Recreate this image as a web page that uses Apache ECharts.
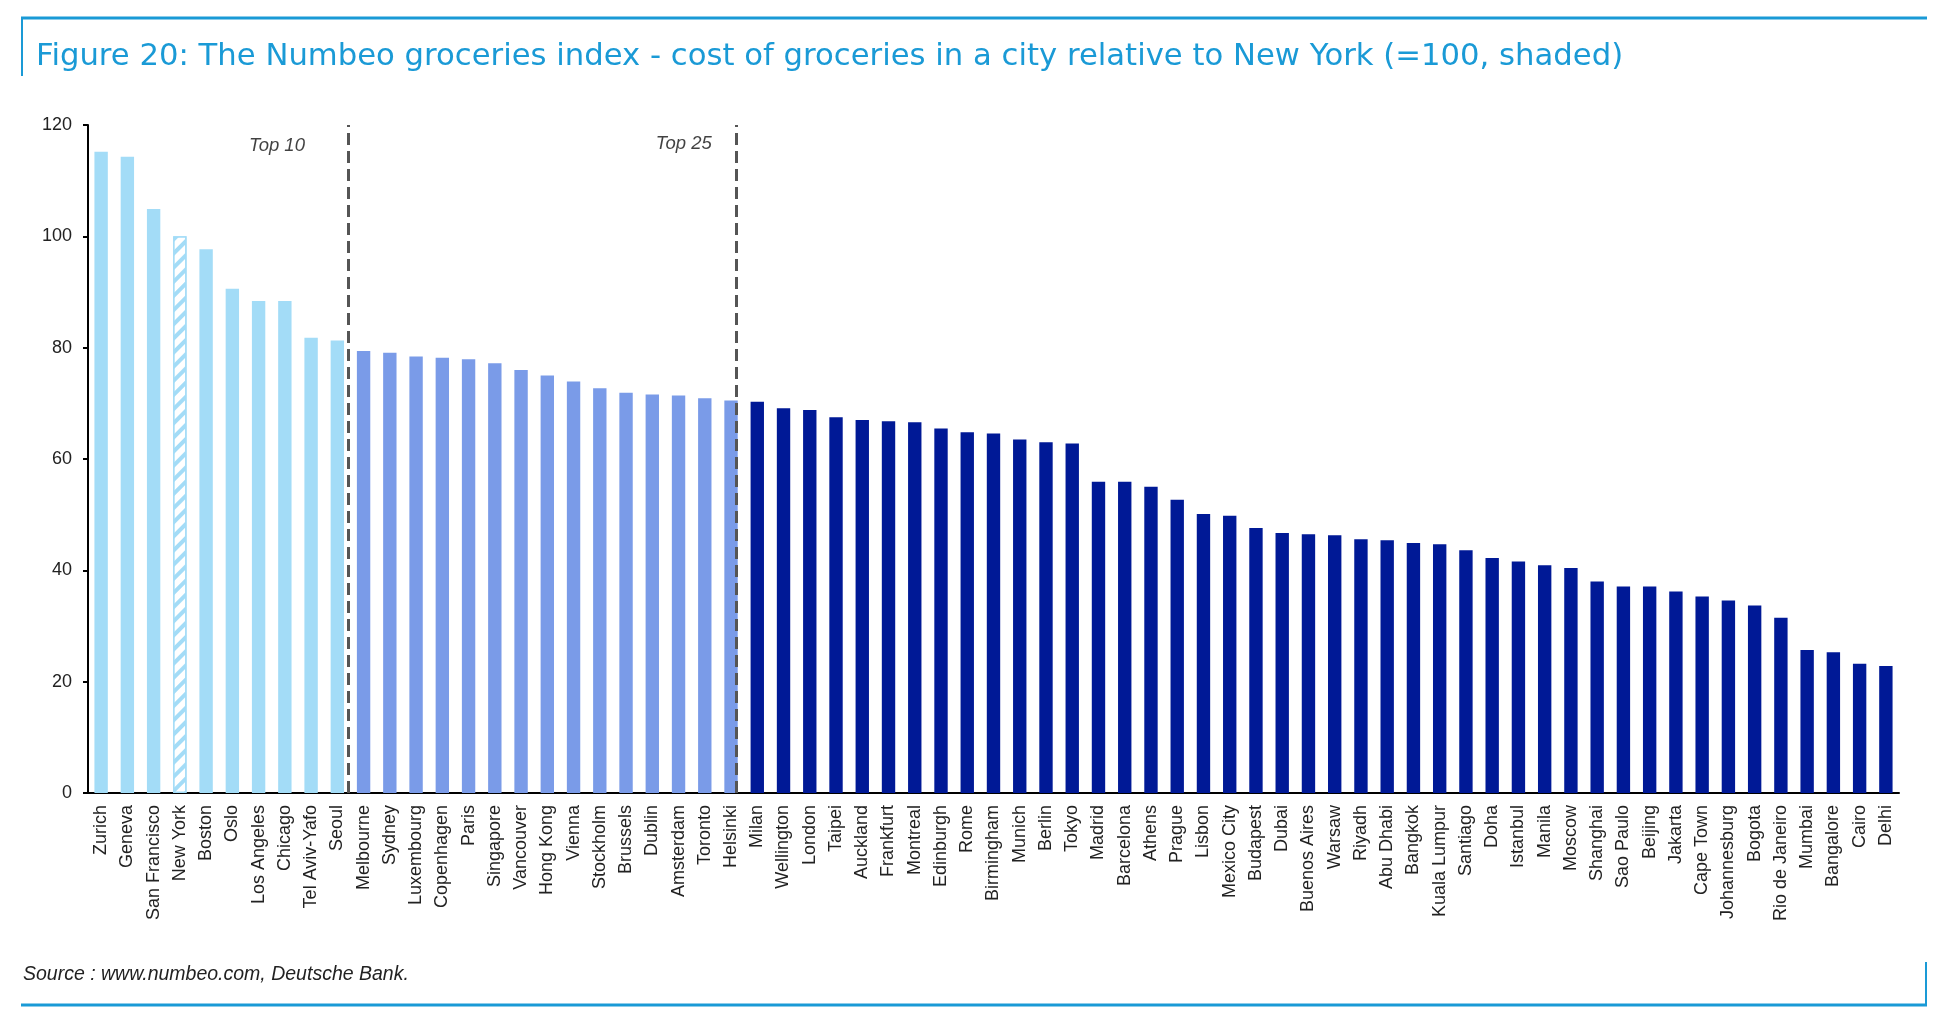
<!DOCTYPE html>
<html style="height: 100%">
<head>
    <meta charset="utf-8">
</head>
<body style="height: 100%; margin: 0; background: #fff">
<div id="container" style="width: 1950px; height: 1016px"></div>
<script type="text/javascript" src="https://cdn.jsdelivr.net/npm/echarts@6/dist/echarts.min.js"></script>
<script type="text/javascript">
  // cities, ranked by the Numbeo groceries index
  const cities = [
    'Zurich', 'Geneva', 'San Francisco', 'New York', 'Boston', 'Oslo', 'Los Angeles', 'Chicago', 'Tel Aviv-Yafo', 'Seoul',
    'Melbourne', 'Sydney', 'Luxembourg', 'Copenhagen', 'Paris', 'Singapore', 'Vancouver', 'Hong Kong', 'Vienna', 'Stockholm',
    'Brussels', 'Dublin', 'Amsterdam', 'Toronto', 'Helsinki',
    'Milan', 'Wellington', 'London', 'Taipei', 'Auckland', 'Frankfurt', 'Montreal', 'Edinburgh', 'Rome', 'Birmingham',
    'Munich', 'Berlin', 'Tokyo', 'Madrid', 'Barcelona', 'Athens', 'Prague', 'Lisbon', 'Mexico City', 'Budapest',
    'Dubai', 'Buenos Aires', 'Warsaw', 'Riyadh', 'Abu Dhabi', 'Bangkok', 'Kuala Lumpur', 'Santiago', 'Doha', 'Istanbul',
    'Manila', 'Moscow', 'Shanghai', 'Sao Paulo', 'Beijing', 'Jakarta', 'Cape Town', 'Johannesburg', 'Bogota', 'Rio de Janeiro',
    'Mumbai', 'Bangalore', 'Cairo', 'Delhi'
  ];
  const groceries = [
    115.2, 114.3, 104.9, 100.0, 97.7, 90.6, 88.4, 88.4, 81.8, 81.3,
    79.4, 79.1, 78.4, 78.2, 77.9, 77.2, 76.0, 75.0, 73.9, 72.7,
    71.9, 71.6, 71.4, 70.9, 70.5,
    70.3, 69.1, 68.8, 67.5, 67.0, 66.8, 66.6, 65.5, 64.8, 64.6,
    63.5, 63.0, 62.8, 55.9, 55.9, 55.0, 52.7, 50.1, 49.8, 47.6,
    46.7, 46.5, 46.3, 45.6, 45.4, 44.9, 44.7, 43.6, 42.2, 41.6,
    40.9, 40.4, 38.0, 37.1, 37.1, 36.2, 35.3, 34.6, 33.7, 31.5,
    25.7, 25.3, 23.2, 22.8
  ];
  const rankCuts = [10, 25];          // top 10 / top 25 groups
  const cutLines = [9.9, 24.7];       // dashed separators (in category units)
  const cutLabels = ['Top 10', 'Top 25'];
  const cutLabelPos = [[7.2, 116.3], [22.7, 116.6]];
  const baseCity = 'New York';        // = 100, shaded

  const groupColors = ['#A3DCF7', '#7A9BE8', '#001996'];

  function groupOf(i) {
    if (i < rankCuts[0]) return 0;
    if (i < rankCuts[1]) return 1;
    return 2;
  }

  const barData = groceries.map(function (v, i) {
    const c = groupColors[groupOf(i)];
    if (cities[i] === baseCity) {
      return {
        value: v,
        itemStyle: {
          color: '#ffffff',
          borderColor: c,
          borderWidth: 1.5,
          decal: {
            symbol: 'rect',
            symbolSize: 1,
            color: c,
            backgroundColor: '#ffffff',
            dashArrayX: [1, 0],
            dashArrayY: [4, 6],
            rotation: -Math.PI / 4
          }
        }
      };
    }
    return { value: v, itemStyle: { color: c } };
  });

  const font = "'Liberation Sans', Arial, sans-serif";
  const blue = '#1A9AD6';

  var dom = document.getElementById('container');
  var myChart = echarts.init(dom, null, { renderer: 'canvas' });
  var option = {
    animation: false,
    backgroundColor: '#ffffff',
    title: [
      {
        text: 'Figure 20: The Numbeo groceries index - cost of groceries in a city relative to New York (=100, shaded)',
        left: 36,
        top: 42,
        padding: 0,
        textStyle: { color: blue, fontSize: 30.7, fontWeight: 'normal', fontFamily: "'DejaVu Sans', sans-serif" }
      },
      {
        text: 'Source : www.numbeo.com, Deutsche Bank.',
        left: 23,
        top: 965,
        padding: 0,
        textStyle: { color: '#222', fontSize: 19.5, fontStyle: 'italic', fontWeight: 'normal', fontFamily: font }
      }
    ],
    graphic: [
      { type: 'line', shape: { x1: 21, y1: 18, x2: 1927, y2: 18 }, style: { stroke: blue, lineWidth: 3 } },
      { type: 'line', shape: { x1: 22, y1: 18, x2: 22, y2: 76 }, style: { stroke: blue, lineWidth: 2 } },
      { type: 'line', shape: { x1: 21, y1: 1005, x2: 1927, y2: 1005 }, style: { stroke: blue, lineWidth: 3 } },
      { type: 'line', shape: { x1: 1926, y1: 962, x2: 1926, y2: 1005 }, style: { stroke: blue, lineWidth: 2 } }
    ],
    grid: { left: 88, right: 51, top: 125, bottom: 223, containLabel: false },
    xAxis: [
      {
        type: 'category',
        data: cities,
        axisLine: { lineStyle: { color: '#000', width: 2 } },
        axisTick: { length: 6, lineStyle: { color: '#000', width: 2 } },
        axisLabel: {
          rotate: 90, interval: 0, margin: 12,
          fontSize: 18, color: '#222', fontFamily: font
        }
      },
      { type: 'value', min: 0, max: cities.length, show: false }
    ],
    yAxis: {
      type: 'value',
      min: 0, max: 120, interval: 20,
      splitLine: { show: false },
      axisLine: { show: true, lineStyle: { color: '#000', width: 2 } },
      axisTick: { show: true, length: 5, lineStyle: { color: '#000', width: 2 } },
      axisLabel: { margin: 16, fontSize: 18, color: '#222', fontFamily: font }
    },
    series: [
      {
        type: 'bar',
        data: barData,
        barWidth: '51%',
        silent: true
      },
      {
        type: 'scatter',
        xAxisIndex: 1,
        symbolSize: 0,
        silent: true,
        data: cutLabelPos.map(function (p, i) {
          return { value: p, name: cutLabels[i] };
        }),
        label: {
          show: true,
          position: 'inside',
          formatter: '{b}',
          fontSize: 18.5, fontStyle: 'italic', color: '#111', fontFamily: font
        },
        markLine: {
          silent: true,
          symbol: ['none', 'none'],
          label: { show: false },
          lineStyle: { color: '#555', width: 3, type: [12, 6] },
          data: cutLines.map(function (x) {
            return [{ coord: [x, 0] }, { coord: [x, 120] }];
          })
        }
      }
    ]
  };
  myChart.setOption(option);
</script>
</body>
</html>
